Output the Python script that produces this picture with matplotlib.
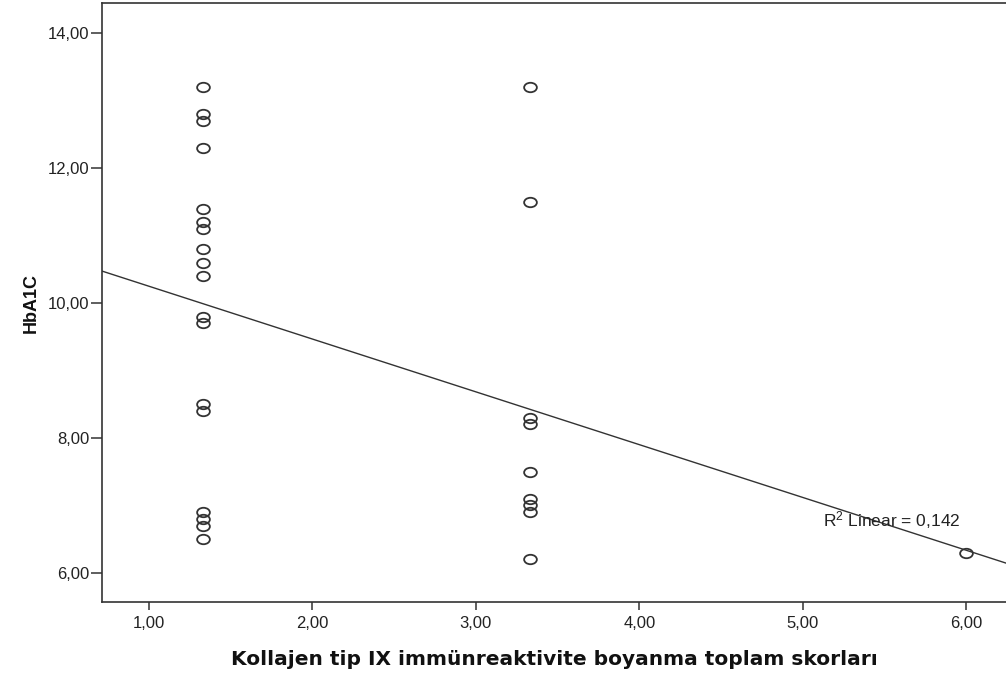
import numpy as np
import matplotlib as mpl
import matplotlib.pyplot as plt
from matplotlib.markers import MarkerStyle
from matplotlib.transforms import Affine2D

plt.rcParams['font.family'] = ['Liberation Sans', 'DejaVu Sans']
plt.rcParams['mathtext.fontset'] = 'custom'
plt.rcParams['mathtext.rm'] = 'Liberation Sans'
plt.rcParams['mathtext.default'] = 'regular'

# Kollajen tip IX skorları (x) and HbA1C (y)
score_low = [1.33] * 18
hba1c_low = [13.2, 12.8, 12.7, 12.3, 11.4, 11.2, 11.1, 10.8, 10.6, 10.4,
             9.8, 9.7, 8.5, 8.4, 6.9, 6.8, 6.7, 6.5]
score_mid = [3.33] * 9
hba1c_mid = [13.2, 11.5, 8.3, 8.2, 7.5, 7.1, 7.0, 6.9, 6.2]
score_high = [6.0]
hba1c_high = [6.3]

x_ticks = [1, 2, 3, 4, 5, 6]
y_ticks = [6, 8, 10, 12, 14]
r2_label = 'R$^{2}$ Linear = 0,142'

x = np.array(score_low + score_mid + score_high)
y = np.array(hba1c_low + hba1c_mid + hba1c_high)

fig = plt.figure(figsize=(10.06, 6.73), dpi=100)
ax = fig.add_axes([0.1017, 0.1059, 0.8983, 0.8892])

xlim = (0.716, 6.243)
ax.set_xlim(*xlim)
ax.set_ylim(5.57, 14.445)

# SPSS draws the circles slightly wider than tall
marker = MarkerStyle('o', transform=Affine2D().scale(1.35, 1.0))
ax.plot(x, y, linestyle='none', marker=marker, markersize=6.8,
        markerfacecolor='none', markeredgecolor='#333333',
        markeredgewidth=1.3, zorder=3)

# fit line
slope, intercept = np.polyfit(x, y, 1)
xs = np.array(xlim)
ax.plot(xs, intercept + slope * xs, color='#333333', linewidth=1.0, zorder=2)

ax.text(5.122, 6.69, r2_label, fontsize=12.5, va='baseline', ha='left',
        color='#222222', zorder=4)

ax.set_xticks(x_ticks)
ax.set_yticks(y_ticks)
comma_fmt = mpl.ticker.FuncFormatter(lambda v, pos: f'{v:.2f}'.replace('.', ','))
ax.xaxis.set_major_formatter(comma_fmt)
ax.yaxis.set_major_formatter(comma_fmt)

for side in ['left', 'bottom', 'top']:
    ax.spines[side].set_linewidth(1.2)
    ax.spines[side].set_color('#333333')
ax.spines['right'].set_visible(False)

ax.tick_params(axis='y', length=8, width=1.1, pad=1.5, labelsize=12,
               color='#333333', labelcolor='#222222')
ax.tick_params(axis='x', length=6, width=1.1, pad=4, labelsize=12,
               color='#333333', labelcolor='#222222')

ax.set_xlabel('Kollajen tip IX immünreaktivite boyanma toplam skorları',
              fontsize=14.5, fontweight='bold', family='DejaVu Sans',
              color='#111111')
ax.xaxis.set_label_coords(0.5, -0.08)
ax.set_ylabel('HbA1C', fontsize=13, fontweight='bold', color='#111111')
ax.yaxis.set_label_coords(-0.069, 0.5)

fig.savefig('out.png', dpi=100)
